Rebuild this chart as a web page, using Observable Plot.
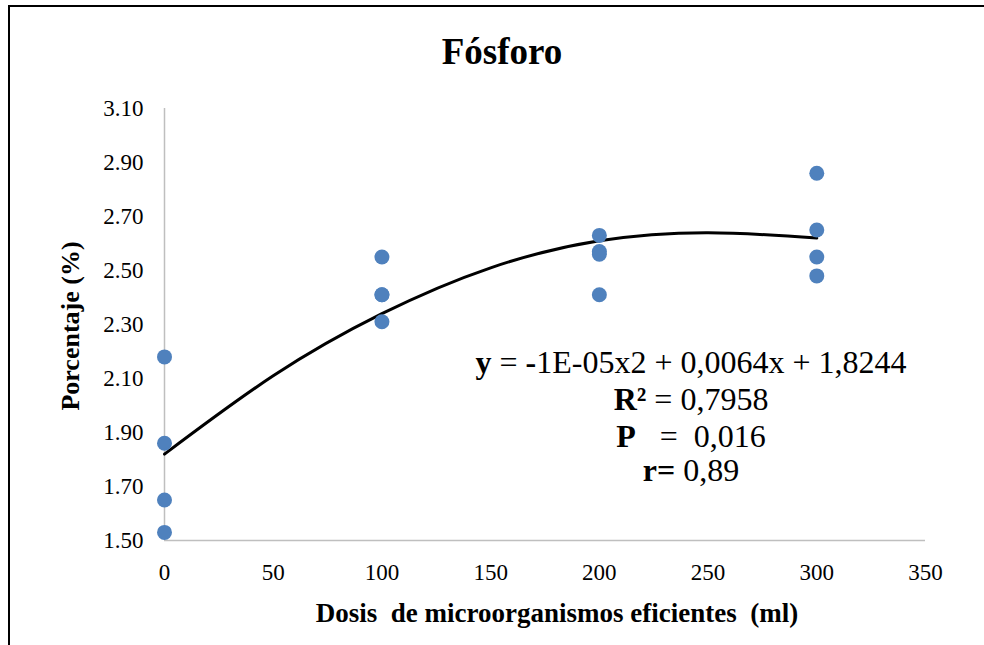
<!DOCTYPE html>
<html>
<head>
<meta charset="utf-8">
<script src="https://cdn.jsdelivr.net/npm/d3@7"></script>
<script src="https://cdn.jsdelivr.net/npm/@observablehq/plot@0.6"></script>
<style>
  html, body { margin: 0; padding: 0; background: #fff; }
  #wrap { position: relative; width: 984px; height: 645px; overflow: hidden; font-family: "Liberation Serif", "Times New Roman", serif; color: #000; }
  #chart { position: absolute; left: 0; top: 0; }
  .abs { position: absolute; line-height: 1; white-space: pre; }
  #title { left: 0; width: 1004px; top: 33px; text-align: center; font-weight: bold; font-size: 37px; }
  .eq { left: 391px; width: 600px; text-align: center; font-size: 32px; }
  #xlabel { left: 57px; width: 1000px; top: 600px; text-align: center; font-weight: bold; font-size: 27px; }
  #ylabel { left: 71px; top: 326px; font-weight: bold; font-size: 26px; transform: translate(-50%, -50%) rotate(-90deg); }
  #frame { position: absolute; left: 8px; top: 5px; width: 2000px; height: 2000px; border-left: 2px solid #000; border-top: 2px solid #000; box-sizing: border-box; }
</style>
</head>
<body>
<div id="wrap">
  <div id="chart"></div>
  <div id="title" class="abs">Fósforo</div>
  <div class="abs eq" style="top:346px"><b>y</b> = <b>-</b>1E-05x2 + 0,0064x + 1,8244</div>
  <div class="abs eq" style="top:383px"><b>R²</b> = 0,7958</div>
  <div class="abs eq" style="top:420px"><b>P</b>   =  0,016</div>
  <div class="abs eq" style="top:454px"><b>r=</b> 0,89</div>
  <div id="xlabel" class="abs">Dosis  de microorganismos eficientes  (ml)</div>
  <div id="ylabel" class="abs">Porcentaje (%)</div>
  <div id="frame"></div>
</div>
<script>
// Observed data
const doses   = [0, 0, 0, 0, 100, 100, 100, 100, 200, 200, 200, 200, 300, 300, 300, 300];
const percent = [2.18, 1.86, 1.65, 1.53, 2.55, 2.41, 2.41, 2.31, 2.63, 2.57, 2.56, 2.41, 2.86, 2.65, 2.55, 2.48];

// Trend line
const trendDose    = [0, 50, 100, 150, 200, 250, 300];
const trendPercent = [1.82, 2.11, 2.34, 2.51, 2.61, 2.64, 2.62];

// Axis ticks
const xTicks = [0, 50, 100, 150, 200, 250, 300, 350];
const yTicks = [1.5, 1.7, 1.9, 2.1, 2.3, 2.5, 2.7, 2.9, 3.1];

const points = doses.map((d, i) => ({dose: d, pct: percent[i]}));
const trend = trendDose.map((d, i) => ({dose: d, pct: trendPercent[i]}));

const chart = Plot.plot({
  width: 984,
  height: 645,
  marginLeft: 164,
  marginRight: 59,
  marginTop: 108,
  marginBottom: 105,
  style: {fontFamily: '"Liberation Serif", "Times New Roman", serif', fontSize: "23px", color: "#000", background: "transparent"},
  x: {domain: [0, 350]},
  y: {domain: [1.5, 3.1]},
  marks: [
    Plot.ruleX([0], {stroke: "#bfbfbf", strokeWidth: 1.5}),
    Plot.ruleY([1.5], {stroke: "#bfbfbf", strokeWidth: 1.5}),
    Plot.axisY({ticks: yTicks, tickSize: 0, tickPadding: 21, tickFormat: d => d.toFixed(2), label: null, fontSize: 23}),
    Plot.axisX({ticks: xTicks, tickSize: 0, tickPadding: 23, tickFormat: d => String(d), label: null, fontSize: 23}),
    Plot.line(trend, {x: "dose", y: "pct", curve: "natural", stroke: "#000", strokeWidth: 3}),
    Plot.dot(points, {x: "dose", y: "pct", r: 7.5, fill: "#4f81bd", stroke: "none"})
  ]
});
document.getElementById("chart").appendChild(chart);
</script>
</body>
</html>
